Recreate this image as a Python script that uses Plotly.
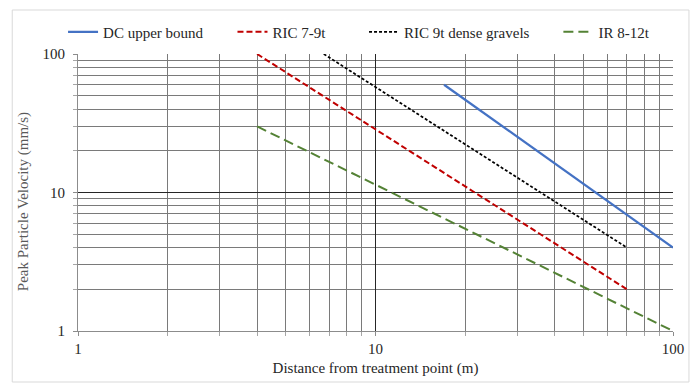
import plotly.graph_objects as go

# ---- data ----
dc_x = [17, 100]
dc_y = [60, 4]
ric79_x = [4, 70]
ric79_y = [100, 2]
ric9_x = [6.7, 70]
ric9_y = [100, 4]
ir_x = [4, 100]
ir_y = [30, 1]

x_ticks = [1, 10, 100]
y_ticks = [1, 10, 100]

FONT = "Liberation Serif, Times New Roman, serif"
W, H = 696, 388
L, R, T, B = 78, 675, 54, 331

def px_x(p):
    return (p - L) / (R - L)

def px_y(p):
    return (B - p) / (B - T)

fig = go.Figure()
fig.add_trace(go.Scatter(x=dc_x, y=dc_y, mode="lines", name="DC upper bound",
                         line=dict(color="#4472C4", width=2.25), legend="legend"))
fig.add_trace(go.Scatter(x=ric79_x, y=ric79_y, mode="lines", name="RIC 7-9t",
                         line=dict(color="#C00000", width=2, dash="6px,3px"), legend="legend2"))
fig.add_trace(go.Scatter(x=ric9_x, y=ric9_y, mode="lines", name="RIC 9t dense gravels",
                         line=dict(color="#000000", width=1.75, dash="3px,2px"), legend="legend3"))
fig.add_trace(go.Scatter(x=ir_x, y=ir_y, mode="lines", name="IR 8-12t",
                         line=dict(color="#548235", width=2, dash="10px,5px"), legend="legend4"))

legend_common = dict(orientation="h", yanchor="middle", xanchor="left",
                     y=px_y(32), bgcolor="rgba(0,0,0,0)",
                     font=dict(family=FONT, size=15, color="#262626"))
text_starts = [103, 273, 405, 600]
names = ["legend", "legend2", "legend3", "legend4"]
legends = {}
for n, ts in zip(names, text_starts):
    legends[n] = dict(legend_common, x=px_x(ts - 40))

axis_common = dict(
    type="log",
    showline=True, linecolor="#8c8c8c", linewidth=1,
    gridcolor="#262626", gridwidth=1,
    ticks="outside", ticklen=4, tickcolor="#8c8c8c",
    tickfont=dict(family=FONT, size=15, color="#262626"),
    minor=dict(dtick="D1", showgrid=True, gridcolor="#7a7a7a", gridwidth=1,
               ticks="outside", ticklen=4, tickcolor="#a6a6a6"),
    zeroline=False,
)

fig.update_layout(
    width=W, height=H,
    margin=dict(l=L, r=W - R, t=T, b=H - B, pad=0),
    paper_bgcolor="white", plot_bgcolor="white",
    font=dict(family=FONT, size=15, color="#262626"),
    showlegend=True,
    **legends,
    xaxis=dict(axis_common, range=[0, 2], tickvals=x_ticks, ticktext=[str(v) for v in x_ticks],
               title=dict(text="Distance from treatment point (m)",
                          font=dict(family=FONT, size=15, color="#262626"), standoff=6)),
    yaxis=dict(axis_common, range=[0, 2], tickvals=y_ticks, ticktext=[str(v) for v in y_ticks],
               ticklabelstandoff=5),
)

# y axis title (Excel places it slightly below centre)
fig.add_annotation(text="Peak Particle Velocity (mm/s)", textangle=-90,
                   xref="paper", yref="paper", x=px_x(23), y=px_y(202),
                   xanchor="center", yanchor="middle", showarrow=False,
                   font=dict(family=FONT, size=15, color="#595959"))

# outer chart border
fig.add_shape(type="rect", xref="paper", yref="paper",
              x0=px_x(12), x1=px_x(691), y0=px_y(382), y1=px_y(10),
              line=dict(color="#d9d9d9", width=1), layer="below")

fig.write_html("out.html")
